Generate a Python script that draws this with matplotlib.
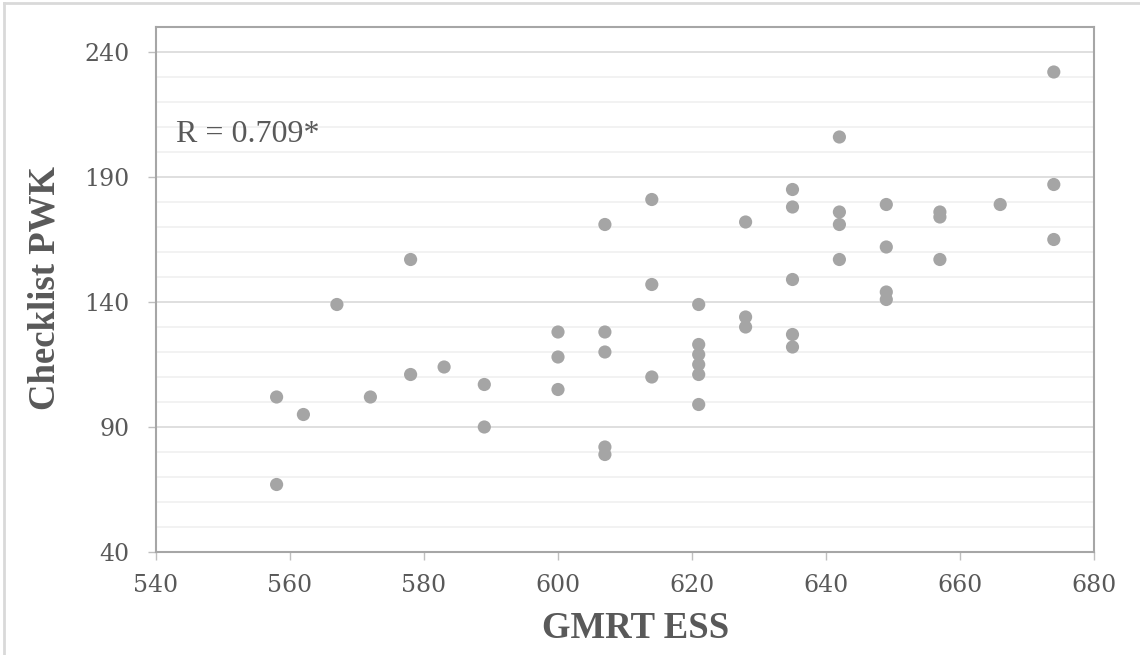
# scatter of checklist PWK vs GMRT ESS
import matplotlib.pyplot as plt
from matplotlib.lines import Line2D
from matplotlib.ticker import MultipleLocator

gmrt_ess = [558, 558, 562, 567, 572, 578, 578, 583, 589, 589,
            600, 600, 600, 607, 607, 607, 607, 607, 614, 614,
            614, 621, 621, 621, 621, 621, 621, 628, 628, 628,
            635, 635, 635, 635, 635, 642, 642, 642, 642, 649,
            649, 649, 649, 657, 657, 657, 666, 674, 674, 674]
checklist_pwk = [102, 67, 95, 139, 102, 111, 157, 114, 107, 90,
                 128, 118, 105, 171, 128, 120, 82, 79, 181, 147,
                 110, 139, 123, 119, 115, 111, 99, 172, 134, 130,
                 185, 178, 149, 127, 122, 206, 176, 171, 157, 179,
                 162, 144, 141, 176, 174, 157, 179, 232, 187, 165]
x_ticks = [540, 560, 580, 600, 620, 640, 660, 680]
y_ticks = [40, 90, 140, 190, 240]
r_label = "R = 0.709*"

text_col = "#595959"
W, H = 1140, 655

fig = plt.figure(figsize=(W / 100, H / 100), dpi=100)
ax = fig.add_axes([156 / W, 1 - 552 / H, (1094 - 156) / W, (552 - 27) / H])

ax.scatter(gmrt_ess, checklist_pwk, s=90, color="#A5A5A5", edgecolors="none", zorder=3)

ax.set_xlim(540, 680)
ax.set_ylim(40, 250)
ax.set_xticks(x_ticks)
ax.set_yticks(y_ticks)
ax.yaxis.set_minor_locator(MultipleLocator(10))

ax.grid(axis="y", which="major", color="#D9D9D9", lw=1.2, zorder=0)
ax.grid(axis="y", which="minor", color="#F0F0F0", lw=1.2, zorder=0)
ax.tick_params(axis="y", which="minor", length=0)
ax.tick_params(axis="both", which="major", direction="out", length=6,
               width=1, color="#BFBFBF", labelcolor=text_col, labelsize=17)
ax.tick_params(axis="y", pad=13)
ax.tick_params(axis="x", pad=10)
for lab in ax.get_xticklabels() + ax.get_yticklabels():
    lab.set_family("DejaVu Serif")

for sp in ax.spines.values():
    sp.set_color("#A6A6A6")
    sp.set_linewidth(1.5)

ax.text(543, 204, r_label, family="Liberation Serif", fontsize=23,
        color=text_col, va="baseline", ha="left")

fig.text(636 / W, 1 - 638 / H, "GMRT ESS", family="Liberation Serif",
         fontweight="bold", fontsize=26.5, color=text_col, ha="center", va="baseline")
fig.text(45 / W, 1 - 288 / H, "Checklist PWK", family="Liberation Serif",
         fontweight="bold", fontsize=26.5, color=text_col, ha="center", va="center",
         rotation=90)

# light outer frame
fig.add_artist(Line2D([4 / W, 1], [1 - 3 / H, 1 - 3 / H], color="#D9D9D9", lw=2))
fig.add_artist(Line2D([4 / W, 4 / W], [0, 1 - 3 / H], color="#D9D9D9", lw=2))

fig.savefig("out.png", dpi=100)
